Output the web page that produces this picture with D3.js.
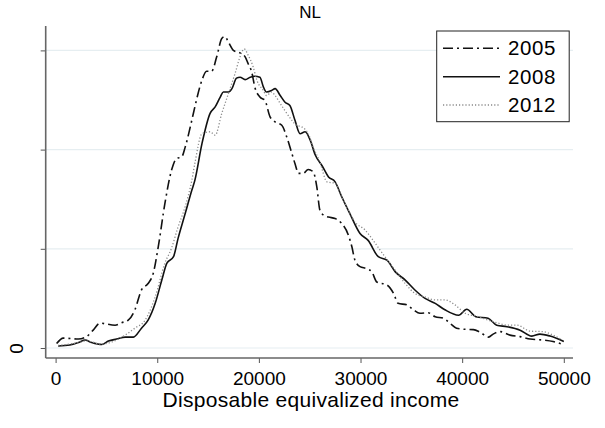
<!DOCTYPE html>
<html>
<head>
<meta charset="utf-8">
<script src="https://cdn.jsdelivr.net/npm/d3@7"></script>
<style>
  html, body { margin: 0; padding: 0; background: #fff; }
  svg { display: block; font-family: "Liberation Sans", Arial, Helvetica, sans-serif; }
</style>
</head>
<body>
<svg id="chart" width="605" height="428"></svg>
<script>
// Kernel density of disposable equivalized income, NL (density in units of 1e-5)
const title = "NL";
const xTitle = "Disposable equivalized income";
const xTicks = [0, 10000, 20000, 30000, 40000, 50000];
const yTicks = [0, 2, 4, 6];
const yTickLabels = ["0", "", "", ""];
const seriesNames = ["2005", "2008", "2012"];

const income2005 = [100, 750, 2250, 3050, 3700, 4350, 5850, 6500, 7150, 7800, 8450, 9100, 9600, 10100, 10750, 11400, 11900, 12400, 12750, 13400, 13700, 14400, 14850, 15350, 15850, 16350, 16650, 17000, 17500, 18150, 18650, 18950, 19300, 19600, 20100, 20600, 21100, 21600, 22250, 22750, 23250, 23550, 23900, 24350, 24850, 25350, 25700, 26000, 26350, 26850, 27500, 28150, 28800, 29150, 29450, 29950, 30600, 31100, 31600, 32600, 33250, 33700, 34550, 35200, 35850, 36650, 37350, 38150, 38800, 39450, 40100, 41100, 41750, 42600, 43050, 43750, 44700, 45700, 46700, 48000, 48950, 49800];
const density2005 = [0.09, 0.20, 0.18, 0.23, 0.36, 0.50, 0.46, 0.51, 0.56, 0.77, 1.17, 1.30, 1.50, 2.04, 2.91, 3.58, 3.82, 3.85, 4.05, 4.59, 4.86, 5.40, 5.58, 5.58, 5.87, 6.24, 6.28, 6.17, 6.00, 5.95, 5.87, 5.73, 5.56, 5.26, 5.06, 4.99, 4.66, 4.56, 4.49, 4.25, 3.92, 3.72, 3.52, 3.52, 3.60, 3.55, 3.25, 2.78, 2.68, 2.64, 2.61, 2.51, 2.28, 2.04, 1.77, 1.64, 1.60, 1.54, 1.33, 1.27, 1.10, 0.90, 0.87, 0.77, 0.70, 0.71, 0.63, 0.60, 0.50, 0.40, 0.38, 0.37, 0.32, 0.22, 0.28, 0.33, 0.26, 0.23, 0.18, 0.16, 0.13, 0.08];

const income2008 = [250, 1400, 2250, 2900, 3550, 4550, 5200, 6000, 6850, 7650, 8450, 9100, 9800, 10450, 10950, 11600, 12050, 12750, 13400, 13700, 14400, 15200, 15700, 16200, 16500, 17000, 17350, 17800, 18150, 18650, 19150, 19600, 20100, 20450, 20750, 21250, 21600, 22100, 22550, 23050, 23550, 24050, 24550, 25050, 25550, 26200, 26850, 27500, 28150, 28950, 29950, 30750, 31750, 32600, 33400, 34400, 35350, 36350, 37350, 38300, 39650, 40450, 41350, 42550, 43400, 44400, 45700, 46850, 47650, 48650, 50000];
const density2008 = [0.04, 0.06, 0.11, 0.16, 0.11, 0.07, 0.14, 0.18, 0.22, 0.22, 0.40, 0.56, 0.90, 1.37, 1.71, 1.84, 2.21, 2.71, 3.18, 3.38, 4.12, 4.73, 4.86, 5.06, 5.16, 5.16, 5.23, 5.44, 5.46, 5.41, 5.46, 5.48, 5.46, 5.26, 5.16, 5.19, 5.23, 5.09, 4.96, 4.89, 4.59, 4.32, 4.36, 4.19, 3.89, 3.68, 3.45, 3.35, 3.05, 2.71, 2.31, 2.17, 1.84, 1.77, 1.54, 1.37, 1.17, 1.00, 0.90, 0.77, 0.66, 0.78, 0.63, 0.60, 0.46, 0.43, 0.36, 0.24, 0.28, 0.24, 0.13];

const income2012 = [250, 1400, 2500, 3000, 3600, 4500, 5500, 6850, 7800, 8800, 9800, 10750, 11400, 12050, 12750, 13400, 13700, 14400, 15200, 15700, 16350, 17000, 17650, 18150, 18550, 18950, 19450, 19800, 20450, 20750, 21250, 21600, 22100, 22550, 23250, 23700, 24200, 24850, 25350, 26000, 26700, 27500, 28150, 28800, 29450, 30450, 31450, 32400, 33400, 34400, 35350, 36350, 37350, 38300, 39300, 40300, 41600, 42600, 43550, 44500, 45400, 46700, 47950, 48950, 49850];
const density2012 = [0.05, 0.08, 0.12, 0.14, 0.12, 0.08, 0.12, 0.26, 0.40, 0.56, 1.03, 1.71, 2.01, 2.44, 2.85, 3.38, 3.72, 4.32, 4.36, 4.29, 4.73, 5.13, 5.53, 5.87, 6.03, 5.90, 5.66, 5.40, 5.19, 5.09, 5.16, 5.09, 4.93, 4.79, 4.59, 4.49, 4.46, 4.32, 4.05, 3.75, 3.35, 3.32, 3.05, 2.78, 2.54, 2.38, 2.11, 1.84, 1.57, 1.30, 1.10, 1.03, 0.97, 0.97, 0.87, 0.70, 0.63, 0.56, 0.50, 0.46, 0.46, 0.34, 0.33, 0.26, 0.16];

const svg = d3.select("#chart");

// plot region
const plotLeft = 45.7, plotRight = 573, plotTop = 26, plotBottom = 358;
const x = d3.scaleLinear().domain([0, 50000]).range([55.6, 563.8]);
const y = d3.scaleLinear().domain([0, 6]).range([348, 50.4]);

// horizontal gridlines
svg.append("g").selectAll("line").data(yTicks).join("line")
  .attr("x1", plotLeft).attr("x2", plotRight)
  .attr("y1", d => y(d)).attr("y2", d => y(d))
  .attr("stroke", "#e6eef1").attr("stroke-width", 1.2);

// y axis
const yAxis = d3.axisLeft(y).tickValues(yTicks).tickSize(5).tickPadding(0)
  .tickFormat((d, i) => yTickLabels[i]);
const gy = svg.append("g").attr("transform", `translate(${plotLeft},0)`).call(yAxis);
gy.select(".domain").remove();
gy.selectAll(".tick line").attr("stroke", "#555");
gy.append("line").attr("x1", 0).attr("x2", 0).attr("y1", plotTop).attr("y2", plotBottom)
  .attr("stroke", "#666").attr("stroke-width", 1.6);
// labels stand vertically, rotated about their tick
gy.selectAll(".tick text")
  .attr("fill", "#000").attr("font-size", 19)
  .attr("text-anchor", "middle")
  .attr("x", 0).attr("y", 0).attr("dy", "0.35em")
  .attr("transform", "translate(-29,0) rotate(-90)");

// x axis
const xAxis = d3.axisBottom(x).tickValues(xTicks).tickSize(5).tickPadding(9)
  .tickFormat(d3.format("d"));
const gx = svg.append("g").attr("transform", `translate(0,${plotBottom})`).call(xAxis);
gx.select(".domain").remove();
gx.selectAll(".tick line").attr("stroke", "#555");
gx.append("line").attr("x1", plotLeft).attr("x2", plotRight).attr("y1", 0).attr("y2", 0)
  .attr("stroke", "#666").attr("stroke-width", 1.6);
gx.selectAll(".tick text").attr("fill", "#000").attr("font-size", 19);

// titles
svg.append("text").attr("x", 310).attr("y", 18).attr("text-anchor", "middle")
  .attr("font-size", 17).attr("fill", "#000").text(title);
svg.append("text").attr("x", 311).attr("y", 407).attr("text-anchor", "middle")
  .attr("font-size", 21).attr("letter-spacing", 0.3).attr("fill", "#000").text(xTitle);

// density curves
const styles = [
  { xs: income2005, ys: density2005, stroke: "#111", width: 1.6, dash: "10,4,2,4" },
  { xs: income2008, ys: density2008, stroke: "#111", width: 1.6, dash: null },
  { xs: income2012, ys: density2012, stroke: "#8a8a8a", width: 1.3, dash: "1.2,2" }
];
const line = d3.line().x(d => x(d[0])).y(d => y(d[1])).curve(d3.curveMonotoneX);
const plot = svg.append("g").attr("fill", "none");
styles.forEach(s => {
  plot.append("path")
    .datum(d3.zip(s.xs, s.ys))
    .attr("d", line)
    .attr("stroke", s.stroke)
    .attr("stroke-width", s.width)
    .attr("stroke-dasharray", s.dash)
    .attr("stroke-linejoin", "round");
});

// legend
const lg = svg.append("g");
lg.append("rect").attr("x", 436.7).attr("y", 31).attr("width", 132.5).attr("height", 90.7)
  .attr("fill", "#fff").attr("stroke", "#222").attr("stroke-width", 1);
const rowY = [48.3, 76.7, 105];
seriesNames.forEach((name, i) => {
  const s = styles[i];
  lg.append("line").attr("x1", 443).attr("x2", 500).attr("y1", rowY[i]).attr("y2", rowY[i])
    .attr("stroke", s.stroke).attr("stroke-width", s.width)
    .attr("stroke-dasharray", s.dash);
  lg.append("text").attr("x", 508).attr("y", rowY[i]).attr("dy", "0.35em")
    .attr("font-size", 20.5).attr("letter-spacing", 0.6).attr("fill", "#000").text(name);
});
</script>
</body>
</html>
